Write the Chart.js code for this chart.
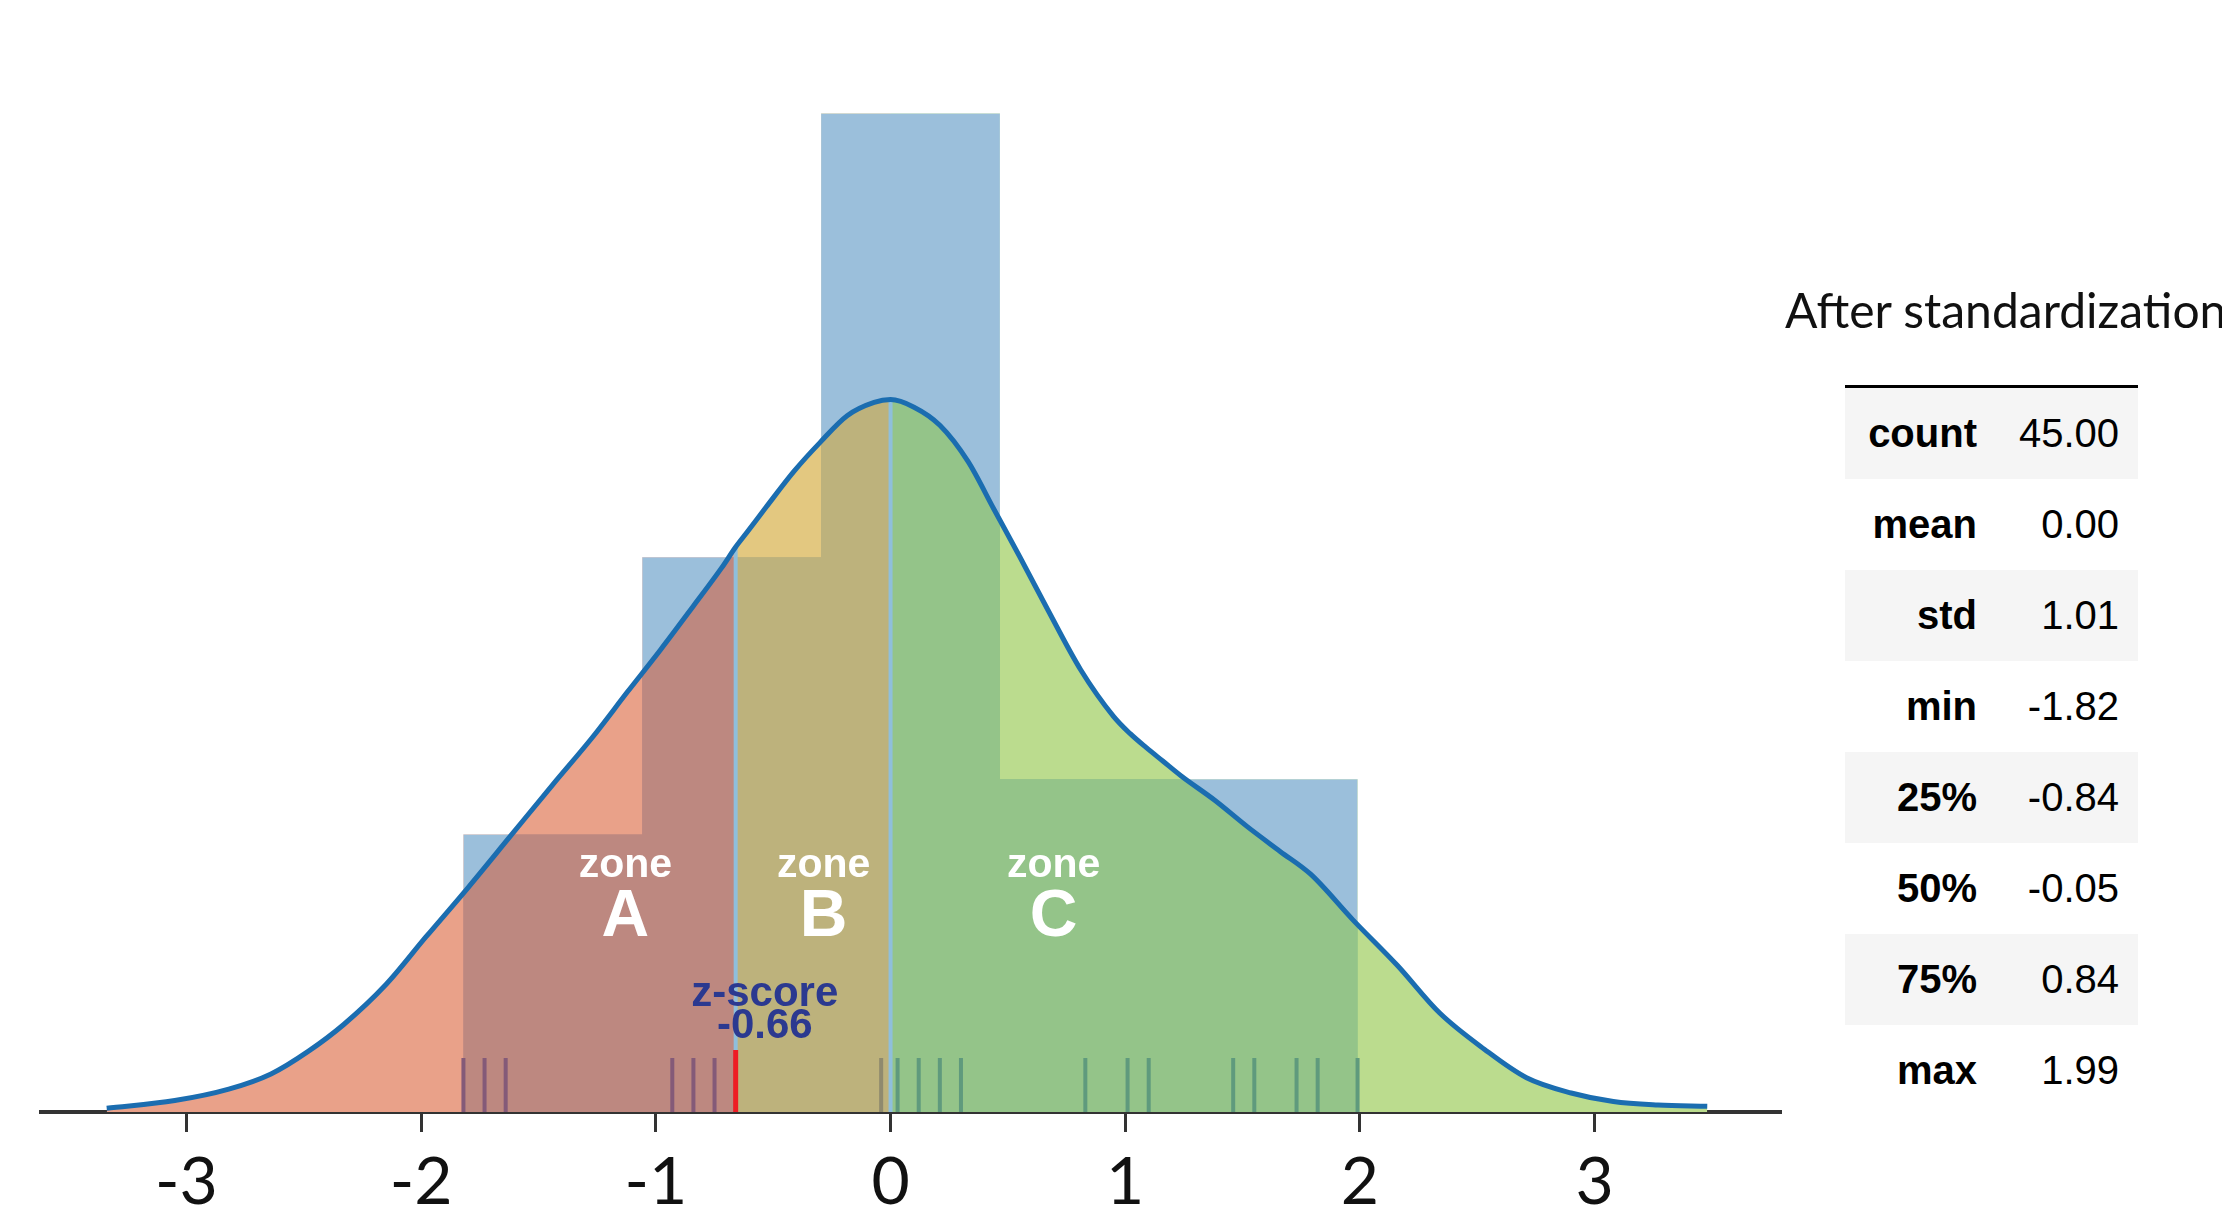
<!DOCTYPE html>
<html>
<head>
<meta charset="utf-8">
<script src="https://cdn.jsdelivr.net/npm/chart.js@4.4.1/dist/chart.umd.min.js"></script>
<style>
  html, body { margin: 0; padding: 0; background: #fff; overflow: hidden; }
  #wrap { position: relative; width: 2222px; height: 1231px; }
  #histChart { position: absolute; left: 0; top: 0; }
  #title {
    position: absolute; left: 1785px; top: 286px;
    font: 48px Lato, "Open Sans", sans-serif; line-height: 48px;
    color: #111; white-space: nowrap;
  }
  #stats {
    position: absolute; left: 1845px; top: 385px; width: 293px;
    border-collapse: collapse; border-top: 3px solid #000;
    font-family: "Liberation Sans", Arial, sans-serif; font-size: 40px; color: #000;
  }
  #stats td { height: 91px; padding: 0; text-align: right; vertical-align: middle; }
  #stats td.name { width: 132px; font-weight: bold; }
  #stats td.val { width: 142px; padding-right: 19px; }
  #stats tr:nth-child(odd) { background: #f5f5f5; }
</style>
</head>
<body>
<div id="wrap">
  <canvas id="histChart" width="1800" height="1231"></canvas>
  <div id="title">After standardization</div>
  <table id="stats"></table>
</div>
<script>
// histogram (5 bins, 45 samples)
var binEdges = [-1.82, -1.058, -0.296, 0.466, 1.228, 1.99];
var binCounts = [5, 10, 18, 6, 6];
var sampleSize = 45;

// kde curve
var kdeX = [-3.34, -3.05, -2.82, -2.64, -2.48, -2.33, -2.15, -1.98, -1.8, -1.62, -1.44, -1.27, -1.12, -0.98, -0.84, -0.72, -0.66, -0.61, -0.53, -0.41, -0.3, -0.185, -0.07, 0, 0.1, 0.21, 0.33, 0.44, 0.55, 0.67, 0.81, 0.95, 1.02, 1.09, 1.16, 1.24, 1.38, 1.52, 1.66, 1.79, 1.97, 2.16, 2.34, 2.53, 2.71, 2.9, 3.08, 3.27, 3.48];
var kdeY = [0.002, 0.006, 0.012, 0.020, 0.032, 0.046, 0.067, 0.092, 0.118, 0.145, 0.172, 0.197, 0.221, 0.243, 0.266, 0.286, 0.297, 0.305, 0.318, 0.337, 0.352, 0.366, 0.373, 0.3745, 0.3705, 0.361, 0.342, 0.317, 0.292, 0.264, 0.2325, 0.208, 0.199, 0.1915, 0.1845, 0.1765, 0.164, 0.150, 0.137, 0.125, 0.101, 0.077, 0.052, 0.033, 0.018, 0.010, 0.0055, 0.0037, 0.003];

// rug of the samples
var rugValues = [-1.82, -1.73, -1.64, -0.93, -0.84, -0.75, -0.66, -0.04, 0.03, 0.12, 0.21, 0.30, 0.83, 1.01, 1.10, 1.46, 1.55, 1.73, 1.82, 1.99];

var zScore = -0.66;
var meanValue = 0;
var zoneNames = ["A", "B", "C"];
var xTicks = [-3, -2, -1, 0, 1, 2, 3];

// describe() table
var statNames = ["count", "mean", "std", "min", "25%", "50%", "75%", "max"];
var statValues = [45, 0, 1.01, -1.82, -0.84, -0.05, 0.84, 1.99];

// colours
var barColor = "#9bbfdb";
var zoneOver = ["#bd8880", "#bdb27c", "#94c489"];   // zone fill where it sits on a bar
var zoneFree = ["#e9a189", "#e3c880", "#bbdc8e"];   // zone fill with no bar behind
var rugColors = ["#845a78", "#8f8a6e", "#5f9a7d"];
var none = "rgba(0,0,0,0)";

// step outline of the histogram, as density
var histPoints = [{ x: kdeX[0], y: 0 }, { x: binEdges[0], y: 0 }];
binCounts.forEach(function (c, i) {
  var w = binEdges[i + 1] - binEdges[i];
  var d = c / (sampleSize * w);
  histPoints.push({ x: binEdges[i], y: d });
  histPoints.push({ x: binEdges[i + 1], y: d });
});
histPoints.push({ x: binEdges[binEdges.length - 1], y: 0 });
histPoints.push({ x: kdeX[kdeX.length - 1], y: 0 });

function kdePoints(from, to) {
  var pts = [];
  for (var i = 0; i < kdeX.length; i++) {
    if (kdeX[i] >= from && kdeX[i] <= to) pts.push({ x: kdeX[i], y: kdeY[i] });
  }
  return pts;
}

var zoneBounds = [[kdeX[0], zScore], [zScore, meanValue], [meanValue, kdeX[kdeX.length - 1]]];

var datasets = [];

// bars (index 0, drawn first)
datasets.push({
  data: histPoints,
  backgroundColor: barColor,
  borderColor: none,
  borderWidth: 0,
  fill: "origin",
  order: 10
});

// zone fills, the whole area under the curve
zoneBounds.forEach(function (b, i) {
  datasets.push({
    data: kdePoints(b[0], b[1]),
    backgroundColor: zoneOver[i],
    borderColor: none,
    borderWidth: 0,
    cubicInterpolationMode: "monotone",
    fill: "origin",
    order: 8
  });
});

// zone fills, the part above the bars
zoneBounds.forEach(function (b, i) {
  datasets.push({
    data: kdePoints(b[0], b[1]),
    borderColor: none,
    borderWidth: 0,
    cubicInterpolationMode: "monotone",
    fill: { target: 0, above: zoneFree[i], below: none },
    order: 6
  });
});

// zone edges
[zScore, meanValue].forEach(function (v) {
  datasets.push({
    data: [{ x: v, y: 0 }, { x: v, y: kdeY[kdeX.indexOf(v)] }],
    borderColor: "#8fbfdc",
    borderWidth: 4,
    fill: false,
    order: 2
  });
});

// kde line
datasets.push({
  data: kdeX.map(function (x, i) { return { x: x, y: kdeY[i] }; }),
  borderColor: "#1b6db0",
  borderWidth: 5,
  cubicInterpolationMode: "monotone",
  fill: false,
  order: 1
});

// rug, z-score marker and labels
var overlay = {
  id: "overlay",
  afterDatasetsDraw: function (chart) {
    var ctx = chart.ctx;
    var xs = chart.scales.x;
    var ys = chart.scales.y;
    var base = ys.getPixelForValue(0);
    ctx.save();

    ctx.lineWidth = 4;
    rugValues.forEach(function (v) {
      var zone = v < zScore ? 0 : (v < meanValue ? 1 : 2);
      var px = xs.getPixelForValue(v);
      ctx.strokeStyle = rugColors[zone];
      ctx.beginPath();
      ctx.moveTo(px, base);
      ctx.lineTo(px, base - 54);
      ctx.stroke();
    });

    var zx = xs.getPixelForValue(zScore);
    ctx.strokeStyle = "#ee1c24";
    ctx.lineWidth = 5;
    ctx.beginPath();
    ctx.moveTo(zx, base);
    ctx.lineTo(zx, base - 62);
    ctx.stroke();

    ctx.textAlign = "center";
    ctx.textBaseline = "alphabetic";
    ctx.fillStyle = "#fff";
    var labelX = [-1.13, -0.285, 0.695];
    zoneNames.forEach(function (name, i) {
      var px = xs.getPixelForValue(labelX[i]);
      ctx.font = 'bold 41px "Liberation Sans", Arial, sans-serif';
      ctx.fillText("zone", px, ys.getPixelForValue(0.1235));
      ctx.font = 'bold 66px "Liberation Sans", Arial, sans-serif';
      ctx.fillText(name, px, ys.getPixelForValue(0.0925));
    });

    ctx.fillStyle = "#2b3990";
    ctx.font = 'bold 42px "Liberation Sans", Arial, sans-serif';
    var tx = xs.getPixelForValue(-0.536);
    ctx.fillText("z-score", tx, ys.getPixelForValue(0.0558));
    ctx.fillText(zScore.toFixed(2), tx, ys.getPixelForValue(0.039));

    ctx.restore();
  }
};

new Chart(document.getElementById("histChart"), {
  type: "line",
  data: { datasets: datasets },
  options: {
    responsive: false,
    animation: false,
    events: [],
    layout: { padding: { left: 41, right: 20, top: 60, bottom: 0 } },
    elements: { point: { radius: 0, hoverRadius: 0 } },
    plugins: {
      legend: { display: false },
      tooltip: { enabled: false }
    },
    scales: {
      x: {
        type: "linear",
        min: -3.62,
        max: 3.79,
        afterFit: function (scale) { scale.height = 119; },
        afterBuildTicks: function (axis) {
          axis.ticks = xTicks.map(function (v) { return { value: v }; });
        },
        border: { display: true, color: "#333", width: 4 },
        grid: { display: true, drawOnChartArea: false, drawTicks: true, tickLength: 20, color: "#333", lineWidth: 3 },
        ticks: {
          autoSkip: false,
          maxRotation: 0,
          padding: 18,
          color: "#111",
          font: { family: "Lato", size: 66, lineHeight: 1 }
        }
      },
      y: { type: "linear", display: false, min: 0, max: 0.553 }
    }
  },
  plugins: [overlay]
});

// stats table
var table = document.getElementById("stats");
statNames.forEach(function (name, i) {
  var tr = document.createElement("tr");
  var th = document.createElement("td");
  th.className = "name";
  th.textContent = name;
  var td = document.createElement("td");
  td.className = "val";
  td.textContent = statValues[i].toFixed(2);
  tr.appendChild(th);
  tr.appendChild(td);
  table.appendChild(tr);
});
</script>
</body>
</html>
